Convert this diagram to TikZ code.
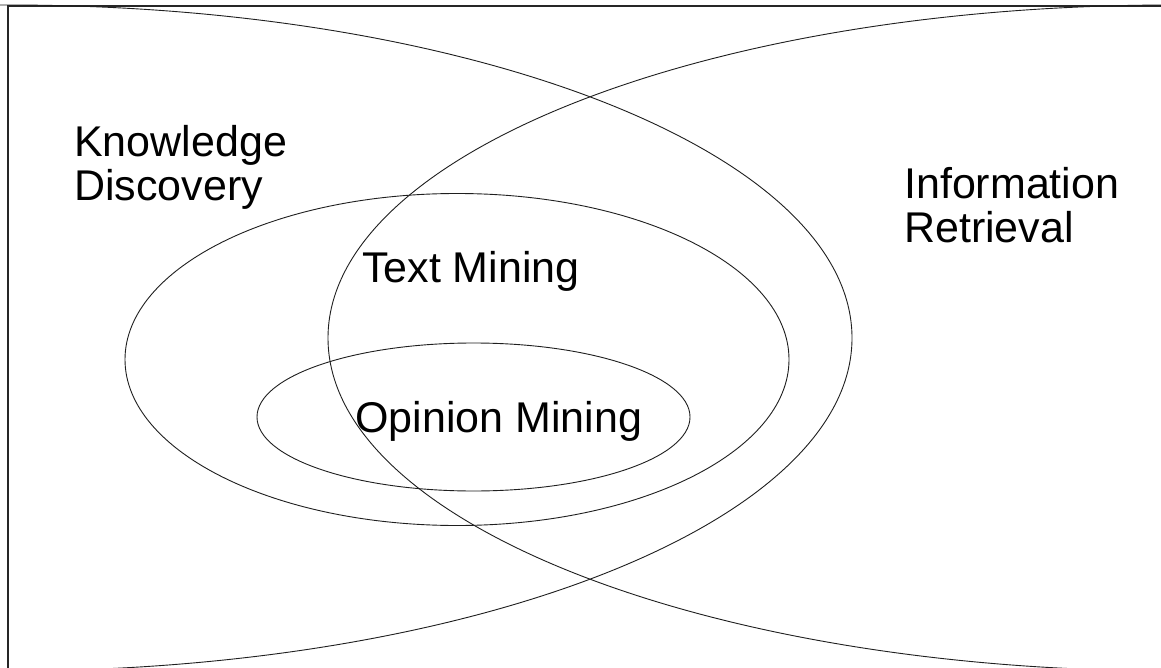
\documentclass[tikz,border=0pt]{standalone}
\usepackage{fontspec}
\setmainfont{Liberation Sans}
\begin{document}
\begin{tikzpicture}[x=1pt,y=-1pt,
  setline/.style={draw=black!88, line width=0.9pt},
  framestyle/.style={draw=black!85, line width=1.3pt},
  setlabel/.style={font=\fontsize{43}{44}\selectfont, inner sep=0pt, anchor=base west, align=left}]
  % canvas
  \useasboundingbox (0,0) rectangle (1161,668);
  \clip (0,0) rectangle (1161,668);
  \fill[white] (0,0) rectangle (1161,668);
  % slide frame
  \draw[framestyle] (8,6) rectangle (1172,670);
  % knowledge discovery and information retrieval
  \draw[setline] (8,338) ellipse [x radius=844, y radius=333];
  \draw[setline] (1172,338) ellipse [x radius=844, y radius=333];
  % text mining
  \draw[setline] (457,359.5) ellipse [x radius=332, y radius=166];
  % opinion mining
  \draw[setline] (473.5,417) ellipse [x radius=216.5, y radius=74];
  % labels (base anchor sits on the last line)
  \node[setlabel] (kd) at (74,201) {Knowledge\\Discovery};
  \node[setlabel] (ir) at (904,243) {Information\\Retrieval};
  \node[setlabel] (tm) at (362,283) {Text Mining};
  \node[setlabel] (om) at (355,432) {Opinion Mining};
\end{tikzpicture}
\end{document}
